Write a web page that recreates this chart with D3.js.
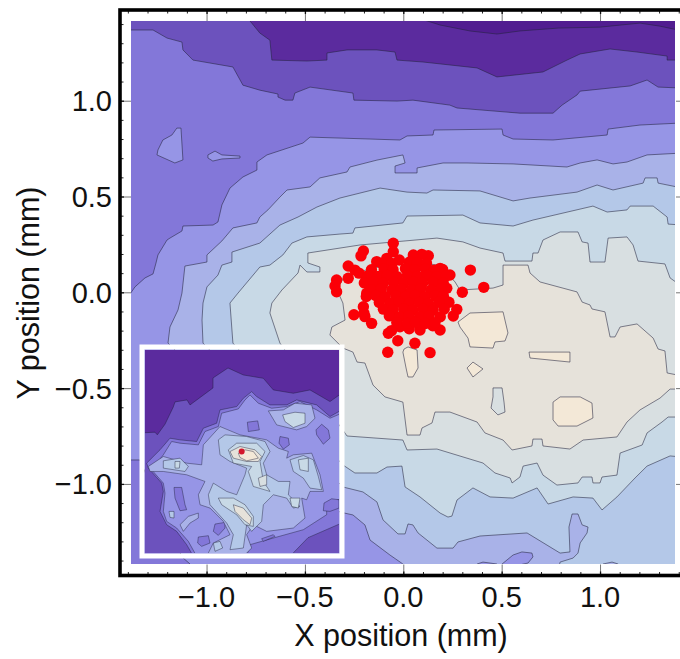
<!DOCTYPE html>
<html>
<head>
<meta charset="utf-8">
<script src="https://cdn.jsdelivr.net/npm/d3@7"></script>
<style>
  html, body { margin: 0; padding: 0; background: #fff; }
  svg { display: block; }
  text { font-family: "Liberation Sans", Arial, sans-serif; fill: #111; }
</style>
</head>
<body>
<svg id="chart" width="680" height="659"></svg>
<script>
const majorTicks = [-1, -0.5, 0, 0.5, 1];
const minorTicks = [-1.4, -1.3, -1.2, -1.1, -0.9, -0.8, -0.7, -0.6, -0.4, -0.3, -0.2, -0.1,
  0.1, 0.2, 0.3, 0.4, 0.6, 0.7, 0.8, 0.9, 1.1, 1.2, 1.3, 1.4];

// contour level colours, darkest to lightest
const levelColors = ['#511d90', '#5b2b9e', '#6c52bd', '#8377d9', '#9695e6', '#a9b2e8',
  '#b4c8e8', '#c8d9e6', '#d8dfe1', '#e6e2da', '#f3e8d7'];

// contour outlines in mm; every ring encloses values at or above its level
const E = 1.42, T = 1.45, B = -1.45;
const contour1 = [[-E, T], [0.019, T], [0.187, 1.395], [0.339, 1.364], [0.476, 1.348], [0.593, 1.364],
  [0.787, 1.379], [1.0, 1.384], [1.203, 1.405], [1.305, 1.389], [E, 1.364], [E, B], [-E, B]];
const contour2 = [[-E, T], [-0.779, T], [-0.779, 1.416], [-0.729, 1.353], [-0.678, 1.316], [-0.668, 1.212],
  [-0.49, 1.207], [-0.388, 1.212], [-0.388, 1.249], [-0.286, 1.265], [-0.134, 1.265], [-0.042, 1.254],
  [-0.032, 1.212], [0.1, 1.202], [0.375, 1.171], [0.476, 1.124], [0.71, 1.15], [0.832, 1.212],
  [0.899, 1.244], [1.051, 1.27], [1.188, 1.254], [1.341, 1.233], [1.341, 1.212], [E, 1.212], [E, B], [-E, B]];
const contour3 = [[-E, 1.369], [-1.272, 1.369], [-1.201, 1.327], [-1.125, 1.306], [-1.12, 1.265], [-1.069, 1.212],
  [-0.866, 1.176], [-0.815, 1.081], [-0.729, 1.055], [-0.637, 1.035], [-0.637, 1.019], [-0.601, 1.003],
  [-0.561, 1.003], [-0.551, 1.04], [-0.474, 1.071], [-0.256, 1.04], [-0.251, 1.003], [-0.032, 0.998],
  [0.049, 1.003], [0.237, 0.977], [0.273, 0.962], [0.593, 0.935], [0.761, 0.935], [0.807, 0.977],
  [0.883, 1.03], [0.899, 1.05], [1.153, 1.077], [1.239, 1.108], [1.295, 1.071], [E, 1.066], [E, B], [-E, B]];
const contour4 = [[-E, -0.056], [-1.364, 0.028], [-1.313, 0.075], [-1.272, 0.096], [-1.257, 0.153], [-1.247, 0.195],
  [-1.201, 0.273], [-1.186, 0.283], [-1.125, 0.32], [-1.12, 0.346], [-0.967, 0.351], [-0.942, 0.367],
  [-0.922, 0.456], [-0.881, 0.544], [-0.815, 0.602], [-0.744, 0.638], [-0.744, 0.68], [-0.693, 0.717],
  [-0.51, 0.779], [-0.474, 0.81], [-0.017, 0.795], [0.019, 0.816], [0.151, 0.821], [0.156, 0.847],
  [0.502, 0.852], [0.507, 0.821], [0.558, 0.8], [0.761, 0.795], [1.036, 0.821], [1.041, 0.852],
  [1.203, 0.873], [E, 0.884], [E, B], [-1.084, B], [-1.084, -1.418], [-1.125, -1.381], [-1.339, -0.875], [-E, -0.875]];
const island4a = [[-1.151, 0.857], [-1.13, 0.857], [-1.12, 0.691], [-1.161, 0.675], [-1.252, 0.717],
  [-1.247, 0.743], [-1.222, 0.795], [-1.176, 0.821]];
const island4b = [[-0.993, 0.717], [-0.957, 0.737], [-0.922, 0.717], [-0.83, 0.711], [-0.83, 0.701],
  [-0.922, 0.696], [-0.968, 0.685], [-0.993, 0.701]];
const contour5 = [[-1.196, -0.265], [-1.186, -0.181], [-1.145, -0.092], [-1.125, -0.004], [-1.11, 0.137],
  [-0.998, 0.158], [-0.998, 0.195], [-0.922, 0.268], [-0.866, 0.336], [-0.744, 0.362], [-0.729, 0.393],
  [-0.688, 0.43], [-0.627, 0.497], [-0.591, 0.534], [-0.474, 0.55], [-0.424, 0.597], [-0.286, 0.628],
  [-0.271, 0.654], [-0.134, 0.69], [-0.002, 0.717], [0.009, 0.675], [-0.042, 0.659], [-0.042, 0.623],
  [0.07, 0.623], [0.07, 0.649], [0.202, 0.675], [0.324, 0.675], [0.558, 0.67], [0.832, 0.654],
  [0.899, 0.675], [0.985, 0.691], [1.066, 0.67], [1.137, 0.68], [1.239, 0.717], [E, 0.727], [E, B],
  [-0.002, B], [-0.002, -1.418], [-0.068, -1.371], [-0.169, -1.293], [-0.195, -1.214], [-0.256, -1.162], [-0.322, -1.147]];
const hole5a = [[0.375, B], [0.375, -1.418], [0.405, -1.408], [0.476, -1.418], [0.476, B]];
const hole5b = [[0.502, B], [0.502, -1.418], [0.558, -1.371], [0.603, -1.355], [0.654, -1.361], [0.659, -1.381], [0.634, -1.413], [0.56, -1.43]];
const contour6 = [[-1.018, -0.265], [-1.023, -0.145], [-1.018, -0.056], [-0.998, 0.028], [-0.942, 0.09], [-0.922, 0.142],
  [-0.871, 0.158], [-0.871, 0.21], [-0.729, 0.257], [-0.627, 0.351], [-0.535, 0.393], [-0.439, 0.445],
  [-0.322, 0.492], [-0.118, 0.544], [0.019, 0.523], [0.12, 0.518], [0.151, 0.534], [0.39, 0.529],
  [0.558, 0.477], [0.644, 0.492], [0.883, 0.523], [0.985, 0.56], [1.066, 0.534], [1.219, 0.57],
  [1.229, 0.597], [1.29, 0.597], [1.295, 0.57], [E, 0.544], [E, B], [1.092, B], [1.092, -1.418],
  [1.061, -1.408], [1.015, -1.418], [1.015, B], [0.787, B], [0.797, -1.408], [0.863, -1.387],
  [0.888, -1.361], [0.899, -1.308], [0.934, -1.256], [0.939, -1.225], [0.909, -1.214], [0.888, -1.157],
  [0.858, -1.157], [0.842, -1.225], [0.847, -1.355], [0.797, -1.361], [0.629, -1.256], [0.39, -1.272],
  [0.278, -1.303], [0.253, -1.335], [0.171, -1.335], [0.075, -1.256], [0.049, -1.214], [0.024, -1.209],
  [0.009, -1.261], [-0.027, -1.261], [-0.103, -1.188], [-0.134, -1.094], [-0.205, -1.042], [-0.307, -1.016]];
const contour7 = [[-0.866, -0.265], [-0.881, -0.056], [-0.84, -0.004], [-0.729, 0.132], [-0.678, 0.142], [-0.612, 0.195],
  [-0.566, 0.257], [-0.49, 0.289], [-0.322, 0.304], [-0.256, 0.309], [-0.246, 0.336], [-0.002, 0.362],
  [0.019, 0.398], [0.303, 0.403], [0.39, 0.362], [0.558, 0.346], [0.659, 0.377], [0.964, 0.45],
  [1.036, 0.419], [1.137, 0.43], [1.153, 0.45], [1.27, 0.45], [1.341, 0.393], [1.346, 0.356], [E, 0.351],
  [E, -0.86], [1.356, -0.854], [1.239, -0.907], [1.178, -0.969], [1.086, -1.068], [1.01, -1.136],
  [0.964, -1.074], [0.863, -1.068], [0.736, -1.105], [0.68, -1.021], [0.558, -1.074], [0.441, -1.068],
  [0.354, -1.021], [0.273, -1.084], [0.247, -1.168], [0.227, -1.173], [0.187, -1.152], [0.085, -1.068],
  [0.009, -1.016], [-0.007, -0.907], [-0.083, -0.912], [-0.134, -0.943], [-0.246, -0.943], [-0.307, -0.901]];
const contour8 = [[-0.627, -0.265], [-0.678, -0.108], [-0.668, -0.056], [-0.617, 0.012], [-0.535, 0.101], [-0.525, 0.142],
  [-0.49, 0.106], [-0.424, 0.106], [-0.424, 0.132], [-0.485, 0.153], [-0.485, 0.205], [-0.22, 0.247],
  [0.171, 0.283], [0.303, 0.263], [0.39, 0.231], [0.507, 0.205], [0.517, 0.163], [0.654, 0.163],
  [0.659, 0.205], [0.685, 0.205], [0.71, 0.273], [0.797, 0.315], [0.888, 0.315], [0.909, 0.263],
  [0.939, 0.257], [0.949, 0.158], [1.025, 0.158], [1.041, 0.283], [1.137, 0.289], [1.168, 0.247],
  [1.193, 0.163], [1.33, 0.148], [1.356, 0.075], [E, 0.028], [E, -0.651], [1.346, -0.651], [1.315, -0.677],
  [1.239, -0.734], [1.214, -0.797], [1.102, -0.839], [1.086, -0.954], [1.01, -0.964], [1.0, -0.995],
  [0.964, -0.995], [0.959, -0.964], [0.909, -0.964], [0.888, -0.995], [0.781, -1.006], [0.71, -0.954],
  [0.68, -0.891], [0.609, -0.907], [0.593, -0.964], [0.553, -0.995], [0.543, -0.969], [0.466, -0.943],
  [0.405, -0.891], [0.171, -0.818], [0.019, -0.823], [-0.002, -0.771], [-0.286, -0.75], [-0.307, -0.719]];
const contour9 = [[0.507, 0.142], [0.634, 0.142], [0.644, 0.101], [0.695, 0.054], [0.883, 0.002], [0.909, -0.051],
  [0.949, -0.066], [0.959, -0.087], [1.025, -0.102], [1.051, -0.233], [1.076, -0.233], [1.102, -0.181],
  [1.188, -0.165], [1.27, -0.239], [1.295, -0.296], [1.33, -0.306], [1.341, -0.421], [E, -0.437],
  [E, -0.505], [1.356, -0.505], [1.305, -0.552], [1.203, -0.614], [1.137, -0.677], [1.086, -0.755],
  [0.914, -0.771], [0.847, -0.818], [0.71, -0.802], [0.705, -0.766], [0.659, -0.766], [0.654, -0.802],
  [0.553, -0.823], [0.507, -0.771], [0.415, -0.734], [0.375, -0.677], [0.237, -0.625], [0.161, -0.625],
  [0.146, -0.682], [0.095, -0.708], [0.085, -0.745], [0.019, -0.745], [-0.002, -0.573], [-0.093, -0.546],
  [-0.154, -0.484], [-0.195, -0.369], [-0.235, -0.364], [-0.256, -0.312], [-0.307, -0.291], [-0.373, -0.223],
  [-0.363, -0.181], [-0.296, -0.145], [-0.307, -0.056], [-0.337, 0.012], [-0.296, 0.09], [-0.017, 0.158],
  [0.186, 0.142], [0.263, 0.054], [0.288, 0.012], [0.456, 0.022], [0.507, 0.038]];
const peak10a = [[0.278, -0.155], [0.339, -0.108], [0.507, -0.102], [0.532, -0.212], [0.517, -0.254], [0.466, -0.259],
  [0.456, -0.291], [0.339, -0.285], [0.329, -0.239], [0.288, -0.181]];
const peak10b = [[0.004, -0.296], [0.024, -0.285], [0.07, -0.301], [0.075, -0.395], [0.049, -0.442], [0.024, -0.442], [0.014, -0.395], [-0.002, -0.312]];
const peak10c = [[0.324, -0.395], [0.354, -0.364], [0.405, -0.4], [0.354, -0.442]];
const peak10d = [[0.639, -0.312], [0.847, -0.312], [0.847, -0.364], [0.644, -0.343]];
const peak10e = [[0.761, -0.573], [0.797, -0.546], [0.899, -0.546], [0.959, -0.578], [0.964, -0.656], [0.883, -0.698], [0.787, -0.698], [0.761, -0.666]];
const hole9 = [[0.456, -0.499], [0.502, -0.499], [0.512, -0.573], [0.517, -0.625], [0.481, -0.64], [0.446, -0.604], [0.456, -0.546]];

const mainLayers = [
  [1, contour1], [2, contour2], [3, contour3], [4, contour4], [4, island4a], [4, island4b],
  [5, contour5], [4, hole5a], [4, hole5b], [6, contour6], [7, contour7], [8, contour8],
  [9, contour9], [10, peak10a], [10, peak10b], [10, peak10c], [10, peak10d], [10, peak10e], [8, hole9]
];

// beam positions in mm
const beamPoints = [
  [-0.051, 0.256], [-0.051, 0.212], [-0.203, 0.216], [-0.215, 0.19], [0.341, 0.116], [0.409, 0.026], [0.3, 0],
  [-0.339, 0.064], [-0.347, 0.033], [-0.339, 0.003], [-0.28, 0.137], [-0.246, 0.116], [-0.28, 0.073],
  [-0.251, -0.117], [-0.203, -0.075], [-0.161, -0.162], [-0.195, -0.127], [-0.079, -0.313], [0.136, -0.315],
  [0.059, -0.266], [-0.028, -0.253], [-0.076, -0.214], [-0.017, -0.18], [0.085, -0.197], [0.187, -0.197],
  [0.254, -0.124], [0.272, -0.089], [0.232, -0.052], [0.127, 0.191], [0.094, 0.198], [0.051, 0.195],
  [-0.02, 0.169], [0.187, 0.125], [0.237, 0.09], [0.221, 0.021], [-0.135, 0.16], [-0.084, 0.177],
  [-0.186, -0.005], [-0.19, 0.082], [-0.225, 0.1], [-0.2, -0.11], [-0.06, -0.2], [0.03, -0.19], [0.15, -0.175],
  [-0.108, 0.152], [-0.058, 0.15], [0.032, 0.158], [0.071, 0.154], [0.118, 0.151],
  [-0.162, 0.118], [-0.097, 0.122], [-0.052, 0.117], [0.011, 0.124], [0.058, 0.118], [0.112, 0.121], [0.158, 0.116], [0.2, 0.119],
  [-0.178, 0.086], [-0.128, 0.083], [-0.081, 0.088], [-0.032, 0.082], [0.021, 0.087], [0.072, 0.083], [0.123, 0.088], [0.169, 0.082], [0.219, 0.087],
  [-0.198, 0.049], [-0.152, 0.053], [-0.101, 0.047], [-0.049, 0.052], [0.003, 0.048], [0.051, 0.053], [0.098, 0.047], [0.152, 0.052], [0.203, 0.048],
  [-0.163, 0.014], [-0.112, 0.018], [-0.058, 0.012], [-0.011, 0.017], [0.042, 0.013], [0.088, 0.018], [0.141, 0.012], [0.192, 0.017],
  [-0.188, -0.022], [-0.141, -0.017], [-0.092, -0.023], [-0.038, -0.018], [0.012, -0.022], [0.061, -0.017], [0.109, -0.023], [0.162, -0.018], [0.204, -0.021],
  [-0.122, -0.053], [-0.068, -0.058], [-0.021, -0.052], [0.031, -0.057], [0.082, -0.053], [0.128, -0.058], [0.181, -0.052],
  [-0.101, -0.088], [-0.052, -0.092], [0.002, -0.087], [0.048, -0.093], [0.101, -0.088], [0.152, -0.092], [0.208, -0.087],
  [-0.071, -0.123], [-0.019, -0.128], [0.028, -0.122], [0.083, -0.127], [0.131, -0.123], [0.188, -0.128],
  [-0.033, -0.158], [0.021, -0.162], [0.062, -0.157], [0.112, -0.163], [0.161, -0.158]
];

// inset map, traced in its own sample units (no axes on it)
const insetDomainX = [45, 627];
const insetDomainY = [45, 655];
const insetBeam = [[335, 350]];
const insetL2 = [[35, 294], [75, 292], [82, 300], [105, 268], [130, 216], [135, 201], [171, 195], [180, 210], [249, 159], [249, 129], [294, 99],
  [340, 120], [400, 130], [430, 165], [490, 175], [540, 165], [600, 200], [635, 175], [635, 665], [35, 665]];
const insetL3 = [[635, 225], [600, 245], [560, 210], [500, 195], [470, 210], [420, 210], [380, 185], [365, 170], [340, 190], [320, 215],
  [270, 225], [260, 265], [220, 280], [200, 320], [150, 315], [120, 310], [90, 345], [50, 385], [55, 400], [95, 445], [100, 470], [90, 530],
  [110, 570], [140, 590], [170, 630], [190, 665], [480, 665], [534, 609], [635, 565]];
const insetL4 = [[360, 180], [385, 205], [425, 220], [470, 215], [510, 200], [560, 225], [600, 250], [635, 235], [635, 490], [590, 510], [590, 540],
  [520, 585], [430, 610], [360, 630], [350, 665], [200, 665], [175, 620], [140, 580], [110, 560], [100, 530], [105, 475], [100, 445], [65, 405],
  [100, 360], [125, 320], [150, 325], [205, 330], [225, 290], [265, 275], [275, 235], [325, 222], [345, 195]];
const insetBlobs = [
  [[352, 262], [383, 258], [388, 285], [355, 290]],
  [[575, 268], [595, 285], [600, 310], [580, 328], [560, 300], [558, 285]],
  [[132, 458], [155, 458], [165, 510], [170, 525], [150, 528], [135, 490]],
  [[255, 568], [285, 563], [285, 580], [265, 602], [250, 590]],
  [[205, 607], [235, 603], [240, 625], [215, 635], [203, 625]],
  [[450, 305], [475, 310], [478, 330], [460, 343], [447, 325]],
  [[250, 380], [270, 372], [272, 400], [255, 408]],
  [[283, 432], [310, 430], [315, 450], [295, 455]],
  [[582, 505], [605, 492], [627, 495], [627, 520], [600, 530], [580, 528]],
  [[395, 612], [430, 600], [435, 605], [400, 620]]
];
const insetL5 = [[55, 395], [100, 365], [170, 385], [215, 390], [220, 330], [270, 275], [330, 300], [410, 315], [445, 340], [475, 350], [470, 370],
  [490, 360], [545, 355], [570, 420], [580, 470], [540, 470], [530, 495], [515, 490], [525, 550], [490, 580], [410, 590], [370, 570], [350, 600],
  [365, 640], [340, 665], [230, 665], [250, 625], [300, 600], [280, 560], [240, 520], [210, 510], [205, 480], [225, 440], [170, 420], [100, 410], [60, 410]];
const insetL5b = [[415, 228], [460, 225], [495, 205], [545, 210], [555, 250], [530, 275], [500, 285], [440, 270]];
const insetL5c = [[150, 570], [175, 545], [205, 535], [205, 550], [180, 565], [160, 590]];
const insetL6 = [[265, 315], [285, 300], [350, 305], [405, 320], [420, 350], [400, 385], [410, 420], [445, 440], [480, 440], [475, 480], [510, 515],
  [490, 520], [470, 490], [430, 480], [400, 510], [395, 560], [365, 590], [350, 570], [340, 640], [300, 645], [310, 600], [290, 565], [240, 510],
  [235, 480], [250, 445], [290, 470], [320, 480], [345, 420], [350, 400], [300, 380], [270, 360]];
const insetL6b = [[100, 378], [150, 370], [175, 395], [165, 410], [100, 400]];
const insetL6c = [[480, 375], [520, 362], [550, 375], [565, 425], [575, 465], [540, 460], [520, 430], [490, 410]];
const insetL6d = [[117, 530], [132, 530], [132, 550], [120, 548]];
const insetL6e = [[250, 625], [270, 620], [278, 640], [255, 650]];
const insetL7 = [[295, 345], [320, 325], [380, 325], [405, 350], [390, 380], [400, 440], [420, 470], [370, 455], [355, 410], [365, 395], [310, 385]];
const insetL7b = [[265, 490], [310, 490], [345, 510], [370, 545], [370, 575], [345, 570], [320, 540], [275, 510]];
const insetL7c = [[505, 375], [535, 370], [535, 410], [510, 405]];
const insetL7d = [[480, 490], [510, 490], [505, 520], [485, 515]];
const insetL7e = [[458, 240], [495, 232], [525, 235], [525, 265], [490, 278], [465, 260]];
const insetL7f = [[135, 380], [150, 380], [148, 400], [135, 400]];
const insetL9 = [[300, 350], [330, 335], [375, 345], [395, 365], [385, 380], [350, 380], [310, 370]];
const insetL9b = [[310, 510], [340, 520], [365, 550], [360, 570], [340, 555], [315, 530]];
const insetL8 = [[385, 430], [410, 420], [410, 450], [390, 455]];
const insetL10 = [[325, 355], [345, 345], [370, 350], [385, 370], [350, 378], [330, 368]];

const insetLayers = [
  [2, insetL2], [3, insetL3], [4, insetL4],
  ...insetBlobs.map(r => [3, r]),
  [5, insetL5], [5, insetL5b], [5, insetL5c],
  [6, insetL6], [6, insetL6b], [6, insetL6c], [6, insetL6d], [6, insetL6e],
  [7, insetL7], [7, insetL7b], [7, insetL7c], [7, insetL7d], [7, insetL7e], [7, insetL7f],
  [8, insetL8], [9, insetL9], [9, insetL9b], [10, insetL10]
];

const svg = d3.select('#chart');

const x = d3.scaleLinear().domain([-1.384, 1.381]).range([131, 675]);
const y = d3.scaleLinear().domain([1.416, -1.418]).range([21, 564]);
const insetX = d3.scaleLinear().domain(insetDomainX).range([145, 339]);
const insetY = d3.scaleLinear().domain(insetDomainY).range([350, 553]);

const defs = svg.append('defs');
defs.append('clipPath').attr('id', 'plot-clip').append('rect')
  .attr('x', x.range()[0]).attr('y', y.range()[0])
  .attr('width', x.range()[1] - x.range()[0]).attr('height', y.range()[1] - y.range()[0]);
defs.append('clipPath').attr('id', 'inset-clip').append('rect')
  .attr('x', insetX.range()[0]).attr('y', insetY.range()[0])
  .attr('width', insetX.range()[1] - insetX.range()[0]).attr('height', insetY.range()[1] - insetY.range()[0]);

const drawLayers = (g, layers, sx, sy, stroke, width) => {
  const ring = d3.line().x(d => sx(d[0])).y(d => sy(d[1])).curve(d3.curveLinearClosed);
  g.selectAll('path').data(layers).enter().append('path')
    .attr('d', d => ring(d[1]))
    .attr('fill', d => levelColors[d[0]])
    .attr('stroke', stroke)
    .attr('stroke-width', width)
    .attr('stroke-linejoin', 'round');
};

// main map
const plot = svg.append('g').attr('clip-path', 'url(#plot-clip)');
plot.append('rect')
  .attr('x', x.range()[0]).attr('y', y.range()[0])
  .attr('width', x.range()[1] - x.range()[0]).attr('height', y.range()[1] - y.range()[0])
  .attr('fill', levelColors[0]);
drawLayers(plot.append('g'), mainLayers, x, y, 'rgba(35,35,60,0.55)', 1);

plot.append('g').selectAll('circle').data(beamPoints).enter().append('circle')
  .attr('cx', d => x(d[0])).attr('cy', d => y(d[1])).attr('r', 5.7).attr('fill', '#fb0007');

// inset
svg.append('rect')
  .attr('x', insetX.range()[0] - 3).attr('y', insetY.range()[0] - 3)
  .attr('width', insetX.range()[1] - insetX.range()[0] + 6).attr('height', insetY.range()[1] - insetY.range()[0] + 6)
  .attr('fill', 'none').attr('stroke', '#fff').attr('stroke-width', 5);
const inset = svg.append('g').attr('clip-path', 'url(#inset-clip)');
inset.append('rect')
  .attr('x', insetX.range()[0]).attr('y', insetY.range()[0])
  .attr('width', insetX.range()[1] - insetX.range()[0]).attr('height', insetY.range()[1] - insetY.range()[0])
  .attr('fill', levelColors[1]);
drawLayers(inset.append('g'), insetLayers, insetX, insetY, 'rgba(25,25,50,0.6)', 0.7);
inset.append('g').selectAll('circle').data(insetBeam).enter().append('circle')
  .attr('cx', d => insetX(d[0])).attr('cy', d => insetY(d[1])).attr('r', 3).attr('fill', '#d3172b');

// frame and axes
const frameLeft = 120, frameTop = 10, frameBottom = 575.5, frameRight = 687;
const tickFmt = d => d3.format('.1f')(d).replace('-', '\u2212');

const styleAxis = (g, color, width) => {
  g.select('.domain').remove();
  g.selectAll('line').attr('stroke', color).attr('stroke-width', width);
};

const axes = [
  [d3.axisBottom(x), `translate(0,${frameBottom})`, -11, -4],
  [d3.axisTop(x), `translate(0,${frameTop})`, -11, -4],
  [d3.axisLeft(y), `translate(${frameLeft},0)`, -11, -4],
  [d3.axisRight(y), `translate(${frameRight},0)`, -11, -4]
];
axes.forEach(([axis, tr, major, minor]) => {
  svg.append('g').attr('transform', tr)
    .call(axis.tickValues(majorTicks).tickSize(major).tickFormat(''))
    .call(g => styleAxis(g, '#777', 1));
  svg.append('g').attr('transform', tr)
    .call(axis.tickValues(majorTicks).tickSize(minor).tickFormat(''))
    .call(g => styleAxis(g, '#111', 1.3));
  svg.append('g').attr('transform', tr)
    .call(axis.tickValues(minorTicks).tickSize(-3.5).tickFormat(''))
    .call(g => styleAxis(g, '#222', 1));
});

svg.append('rect')
  .attr('x', frameLeft).attr('y', frameTop)
  .attr('width', frameRight - frameLeft).attr('height', frameBottom - frameTop)
  .attr('fill', 'none').attr('stroke', '#000').attr('stroke-width', 3.6);

// tick labels
svg.append('g').selectAll('text').data(majorTicks).enter().append('text')
  .attr('x', d => x(d)).attr('y', 607)
  .attr('text-anchor', 'middle').attr('font-size', 29).text(tickFmt);
svg.append('g').selectAll('text').data(majorTicks).enter().append('text')
  .attr('x', 112).attr('y', d => y(d) + 10.5)
  .attr('text-anchor', 'end').attr('font-size', 29).text(tickFmt);

svg.append('text')
  .attr('x', 401).attr('y', 646)
  .attr('text-anchor', 'middle').attr('font-size', 30.5).text('X position (mm)');
svg.append('text')
  .attr('transform', 'translate(39,293) rotate(-90)')
  .attr('text-anchor', 'middle').attr('font-size', 30.5).text('Y position (mm)');
</script>
</body>
</html>
